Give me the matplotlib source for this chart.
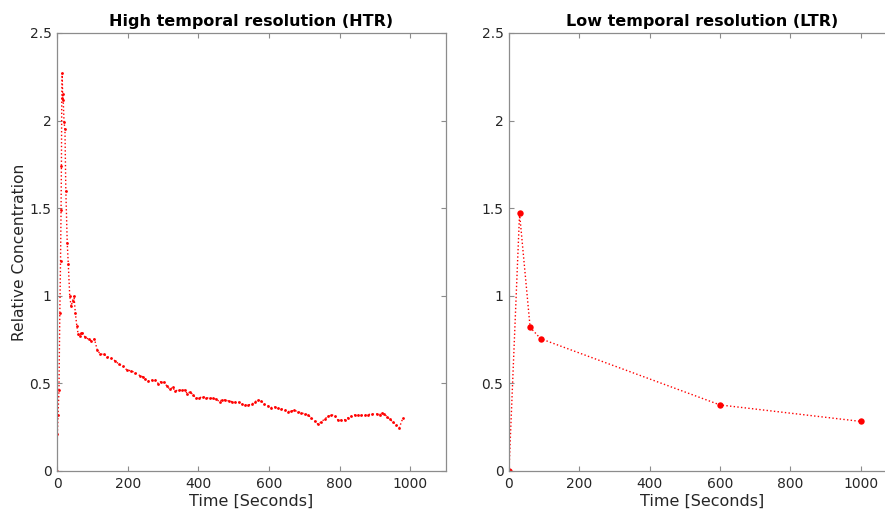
import matplotlib
matplotlib.use("Agg")
import matplotlib.pyplot as plt

# high temporal resolution: time [s] and relative concentration
htr_time = [0, 1, 3, 5.5, 8, 10, 11.5, 12.5, 13.5, 14.5, 16, 17.5, 20, 22.5, 25, 29,
            32, 36, 40, 44, 48, 52, 56, 60, 64, 68, 72, 80, 90, 97, 106, 114, 123, 132,
            142, 154, 165, 175, 186, 198, 210, 222, 235, 243, 249, 259, 268, 278, 287,
            294, 303, 311, 320, 327, 334, 344, 353, 361, 369, 377, 385, 394, 403, 413,
            422, 432, 441, 451, 460, 467, 476, 486, 495, 505, 514, 524, 533, 542, 552,
            561, 569, 578, 587, 597, 606, 616, 625, 635, 644, 654, 663, 672, 682, 691,
            701, 710, 720, 729, 739, 748, 758, 767, 777, 786, 796, 805, 815, 824, 833,
            843, 852, 861, 871, 880, 892, 906, 913, 920, 926, 935, 942, 951, 960, 969,
            979]
htr_conc = [0.0, 0.21, 0.32, 0.46, 0.9, 1.2, 1.49, 1.74, 2.13, 2.27, 2.15, 2.12, 1.99,
            1.95, 1.6, 1.3, 1.18, 1.0, 0.94, 0.97, 1.0, 0.9, 0.83, 0.78, 0.77, 0.79,
            0.79, 0.763, 0.752, 0.744, 0.753, 0.69, 0.666, 0.668, 0.652, 0.643, 0.628,
            0.61, 0.6, 0.576, 0.572, 0.56, 0.544, 0.538, 0.525, 0.514, 0.518, 0.521,
            0.498, 0.51, 0.506, 0.485, 0.466, 0.478, 0.458, 0.461, 0.461, 0.461, 0.441,
            0.453, 0.434, 0.415, 0.418, 0.424, 0.418, 0.415, 0.415, 0.409, 0.396, 0.407,
            0.405, 0.4, 0.396, 0.392, 0.392, 0.381, 0.377, 0.377, 0.382, 0.396, 0.405,
            0.401, 0.381, 0.373, 0.362, 0.366, 0.358, 0.354, 0.35, 0.339, 0.342, 0.346,
            0.339, 0.331, 0.327, 0.32, 0.304, 0.285, 0.266, 0.281, 0.297, 0.312, 0.32,
            0.316, 0.289, 0.291, 0.293, 0.304, 0.312, 0.32, 0.318, 0.318, 0.318, 0.322,
            0.325, 0.325, 0.321, 0.333, 0.325, 0.31, 0.295, 0.28, 0.264, 0.247, 0.302]

# low temporal resolution
ltr_time = [0, 30, 60, 90, 600, 1000]
ltr_conc = [0.0, 1.47, 0.82, 0.755, 0.377, 0.283]

x_ticks = [0, 200, 400, 600, 800, 1000]
y_ticks = [0, 0.5, 1, 1.5, 2, 2.5]
y_tick_labels = ["0", "0.5", "1", "1.5", "2", "2.5"]

AXIS_GREY = "#8c8c8c"
TEXT_DARK = "#262626"

fig = plt.figure(figsize=(8.85, 5.13), dpi=100)
ax_l = fig.add_axes([57 / 885, 42 / 513, 388.6 / 885, 438 / 513])
ax_r = fig.add_axes([509 / 885, 42 / 513, 387 / 885, 438 / 513])

ax_l.plot(htr_time, htr_conc, color="red", linestyle=":", linewidth=1.0,
          marker="o", markersize=2.0, markeredgewidth=0)
ax_r.plot(ltr_time, ltr_conc, color="red", linestyle=":", linewidth=1.0,
          marker="o", markersize=4.6, markeredgewidth=0)

titles = ["High temporal resolution (HTR)", "Low temporal resolution (LTR)"]
for axis, title in zip([ax_l, ax_r], titles):
    axis.set_xlim(0, 1100)
    axis.set_ylim(0, 2.5)
    axis.set_xticks(x_ticks)
    axis.set_yticks(y_ticks)
    axis.set_yticklabels(y_tick_labels)
    axis.tick_params(direction="in", length=3.5, width=0.8, color=AXIS_GREY,
                     labelcolor=TEXT_DARK, labelsize=10, top=True, right=True, pad=4)
    for spine in axis.spines.values():
        spine.set_color(AXIS_GREY)
        spine.set_linewidth(0.9)
    axis.set_title(title, fontsize=11.5, fontweight="bold", color="black", pad=5)
    axis.set_xlabel("Time [Seconds]", fontsize=11.5, color=TEXT_DARK, labelpad=2)

# right panel runs past the figure edge, so its right side is not drawn
ax_r.spines["right"].set_visible(False)
ax_r.tick_params(right=False)

ax_l.set_ylabel("Relative Concentration", fontsize=11.2, color=TEXT_DARK, labelpad=2)

fig.savefig("out.png", dpi=100)
